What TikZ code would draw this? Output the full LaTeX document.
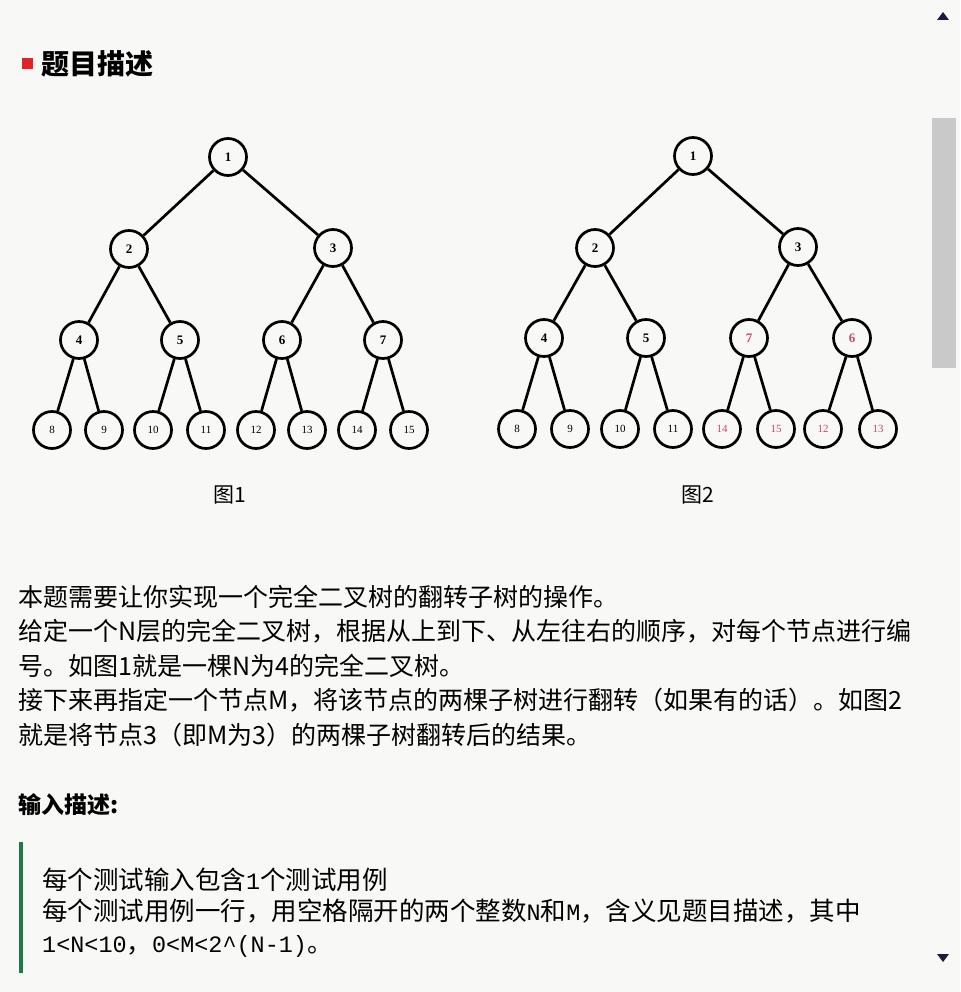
\documentclass[tikz,border=0pt]{standalone}
\usepackage{fontspec}
\usepackage{tikz}
\usetikzlibrary{positioning}
\setmainfont{Noto Sans CJK SC}
\newfontfamily\monof[Scale=0.92]{Liberation Mono}
\newfontfamily\numf{Liberation Serif}
\definecolor{bgpaper}{HTML}{F8F8F6}
\definecolor{titlered}{HTML}{E02424}
\definecolor{flipred}{HTML}{C84A6A}
\definecolor{quotegreen}{HTML}{1F7A4A}
\definecolor{scrollgray}{HTML}{C9C9C9}
\definecolor{arrowblue}{HTML}{1A1A40}

\begin{document}
\begin{tikzpicture}[x=1pt, y=-1pt,
	tn/.style={circle, draw, line width=2.7pt, minimum size=37pt, inner sep=0pt, font=\numf\bfseries\fontsize{13}{13}\selectfont},
	lf/.style={tn, font=\numf\fontsize{11}{11}\selectfont},
	fl/.style={text=flipred},
	br/.style={line width=2.7pt},
	para/.style={anchor=base west, inner sep=0pt, font=\fontsize{25}{25}\selectfont},
	inp/.style={anchor=base west, inner sep=0pt, font=\fontsize{25.5}{25.5}\selectfont},
	figcap/.style={inner sep=0pt, font=\fontsize{21}{21}\selectfont}]
	\useasboundingbox (0,0) rectangle (960,992);
	\fill[bgpaper] (0,0) rectangle (960,992);

	\node[fill=titlered, minimum size=11pt, inner sep=0pt] (bullet) at (27.5,64) {};
	\node[right=8pt of bullet, inner sep=0pt, font=\bfseries\fontsize{28}{28}\selectfont] (title) {题目描述};

	\node[tn] (a1) at (228,157) {1};
	\node[tn] (a2) at (129,249) {2};
	\node[tn] (a3) at (333,248) {3};
	\node[tn] (a4) at (79,340) {4};
	\node[tn] (a5) at (180,340) {5};
	\node[tn] (a6) at (282,340) {6};
	\node[tn] (a7) at (383,340) {7};
	\node[lf] (a8) at (52,430) {8};
	\node[lf] (a9) at (104,430) {9};
	\node[lf] (a10) at (153,430) {10};
	\node[lf] (a11) at (206,430) {11};
	\node[lf] (a12) at (256,430) {12};
	\node[lf] (a13) at (307,430) {13};
	\node[lf] (a14) at (357,430) {14};
	\node[lf] (a15) at (409,430) {15};
	\node[figcap] (cap1) at (230,495) {图1};

	\node[tn] (b1) at (693,156) {1};
	\node[tn] (b2) at (595,248) {2};
	\node[tn] (b3) at (798,247) {3};
	\node[tn] (b4) at (544,338) {4};
	\node[tn] (b5) at (646,338) {5};
	\node[tn, fl] (b7) at (749,338) {7};
	\node[tn, fl] (b6) at (852,338) {6};
	\node[lf] (b8) at (517,429) {8};
	\node[lf] (b9) at (570,429) {9};
	\node[lf] (b10) at (620,429) {10};
	\node[lf] (b11) at (673,429) {11};
	\node[lf, fl] (b14) at (722,429) {14};
	\node[lf, fl] (b15) at (776,429) {15};
	\node[lf, fl] (b12) at (823,429) {12};
	\node[lf, fl] (b13) at (878,429) {13};
	\node[figcap] (cap2) at (698,495) {图2};

	\draw[br] (a1) -- (a2) (a1) -- (a3)
		(a2) -- (a4) (a2) -- (a5) (a3) -- (a6) (a3) -- (a7)
		(a4) -- (a8) (a4) -- (a9) (a5) -- (a10) (a5) -- (a11)
		(a6) -- (a12) (a6) -- (a13) (a7) -- (a14) (a7) -- (a15);
	\draw[br] (b1) -- (b2) (b1) -- (b3)
		(b2) -- (b4) (b2) -- (b5) (b3) -- (b7) (b3) -- (b6)
		(b4) -- (b8) (b4) -- (b9) (b5) -- (b10) (b5) -- (b11)
		(b7) -- (b14) (b7) -- (b15) (b6) -- (b12) (b6) -- (b13);

	\node[para] (p1) at (18,606) {本题需要让你实现一个完全二叉树的翻转子树的操作。};
	\node[para, below=34.5pt of p1.base west, anchor=base west] (p2) {给定一个N层的完全二叉树，根据从上到下、从左往右的顺序，对每个节点进行编};
	\node[para, below=34.5pt of p2.base west, anchor=base west] (p3) {号。如图1就是一棵N为4的完全二叉树。};
	\node[para, below=34.5pt of p3.base west, anchor=base west] (p4) {接下来再指定一个节点M，将该节点的两棵子树进行翻转（如果有的话）。如图2};
	\node[para, below=34.5pt of p4.base west, anchor=base west] (p5) {就是将节点3（即M为3）的两棵子树翻转后的结果。};

	\node[anchor=west, inner sep=0pt, font=\bfseries\fontsize{23}{23}\selectfont] (inhead) at (18,805) {输入描述:};
	\draw[quotegreen, line width=4pt] (21,842) -- (21,973);
	\node[inp] (in1) at (42,889) {每个测试输入包含{\monof 1}个测试用例};
	\node[inp, below=31pt of in1.base west, anchor=base west] (in2) {每个测试用例一行，用空格隔开的两个整数{\monof N}和{\monof M}，含义见题目描述，其中};
	\node[inp, below=32pt of in2.base west, anchor=base west] (in3) {{\monof 1<N<10}，{\monof 0<M<2\^{}(N-1)}。};

	\fill[scrollgray] (932,118) rectangle (956,368);
	\fill[arrowblue] (937,20) -- (949,20) -- (943,12) -- cycle;
	\fill[arrowblue] (937,954) -- (949,954) -- (943,962) -- cycle;
\end{tikzpicture}
\end{document}
